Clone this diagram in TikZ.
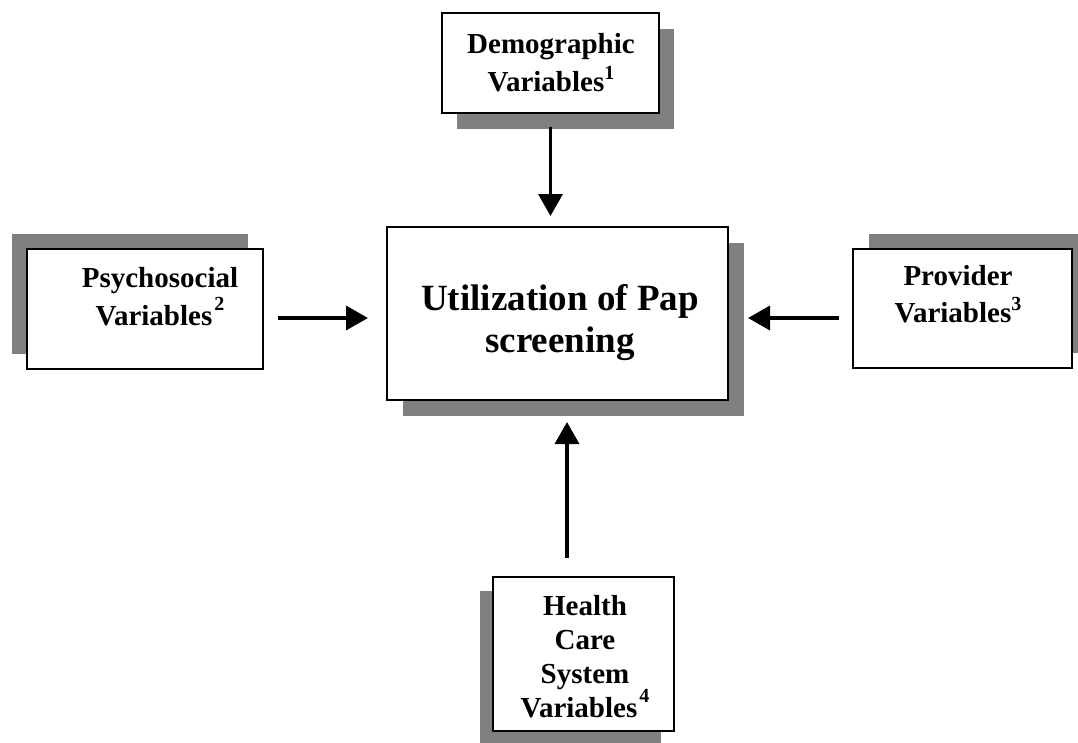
\documentclass[tikz,border=0pt]{standalone}
\usepackage{fontspec}
\setmainfont{Liberation Serif}
\usetikzlibrary{shadows,arrows.meta}
\definecolor{shadowgray}{RGB}{128,128,128}
\newcommand\mysup[2]{\smash{\raisebox{#1}{\fontsize{20}{20}\selectfont\bfseries #2}}}
\begin{document}
\begin{tikzpicture}[x=1pt,y=-1pt,
  box/.style={draw=black, line width=2pt, fill=white, rectangle, inner sep=0pt, outer sep=0pt},
  shad/.style 2 args={general shadow={fill=shadowgray, shadow xshift=#1, shadow yshift=#2}},
  lbl/.style={align=center, inner sep=0pt, font=\bfseries\fontsize{29}{38}\selectfont},
  arr/.style={line width=3.5pt, -{Triangle[length=22pt,width=24pt]}}]
\useasboundingbox (0,0) rectangle (1078,742);
\clip (0,0) rectangle (1078,742);
% boxes
\node[box, minimum width=217pt, minimum height=100pt, shad={15pt}{-16pt}] (demo) at (550.5,63) {};
\node[box, minimum width=236pt, minimum height=120pt, shad={-15pt}{15pt}] (psy) at (145,309) {};
\node[box, minimum width=341pt, minimum height=173pt, shad={16pt}{-16pt}] (ctr) at (557.5,313.5) {};
\node[box, minimum width=219pt, minimum height=119pt, shad={16pt}{15pt}] (prov) at (962.5,308.5) {};
\node[box, minimum width=181pt, minimum height=154pt, shad={-13pt}{-14pt}] (hcs) at (583.5,654) {};
% texts
\node[lbl] (demoT) at (551,63) {Demographic\\Variables\mysup{12pt}{1}};
\node[lbl] (psyT) at (160,297) {Psychosocial\\Variables\kern2pt\mysup{15pt}{2}};
\node[lbl, font=\bfseries\fontsize{37}{42}\selectfont] (ctrT) at (560,323) {Utilization of Pap\\screening};
\node[lbl, font=\bfseries\fontsize{29}{37}\selectfont] (provT) at (958,294) {Provider\\Variables\mysup{12pt}{3}};
\node[lbl, font=\bfseries\fontsize{29}{34}\selectfont] (hcsT) at (585,657) {Health\\Care\\System\\Variables\kern2pt\mysup{15pt}{4}};
% connectors
\coordinate (hrow) at (0,318);
\coordinate (hcol) at (567,0);
\draw[arr, shorten <=14pt, shorten >=11pt] (demo.south) -- (demo.south |- ctr.north);
\draw[arr, shorten <=15pt, shorten >=19pt] (psy.east |- hrow) -- (ctr.west |- hrow);
\draw[arr, shorten <=14pt, shorten >=20pt] (prov.west |- hrow) -- (ctr.east |- hrow);
\draw[arr, shorten <=19pt, shorten >=22pt] (hcol |- hcs.north) -- (hcol |- ctr.south);
\end{tikzpicture}
\end{document}
